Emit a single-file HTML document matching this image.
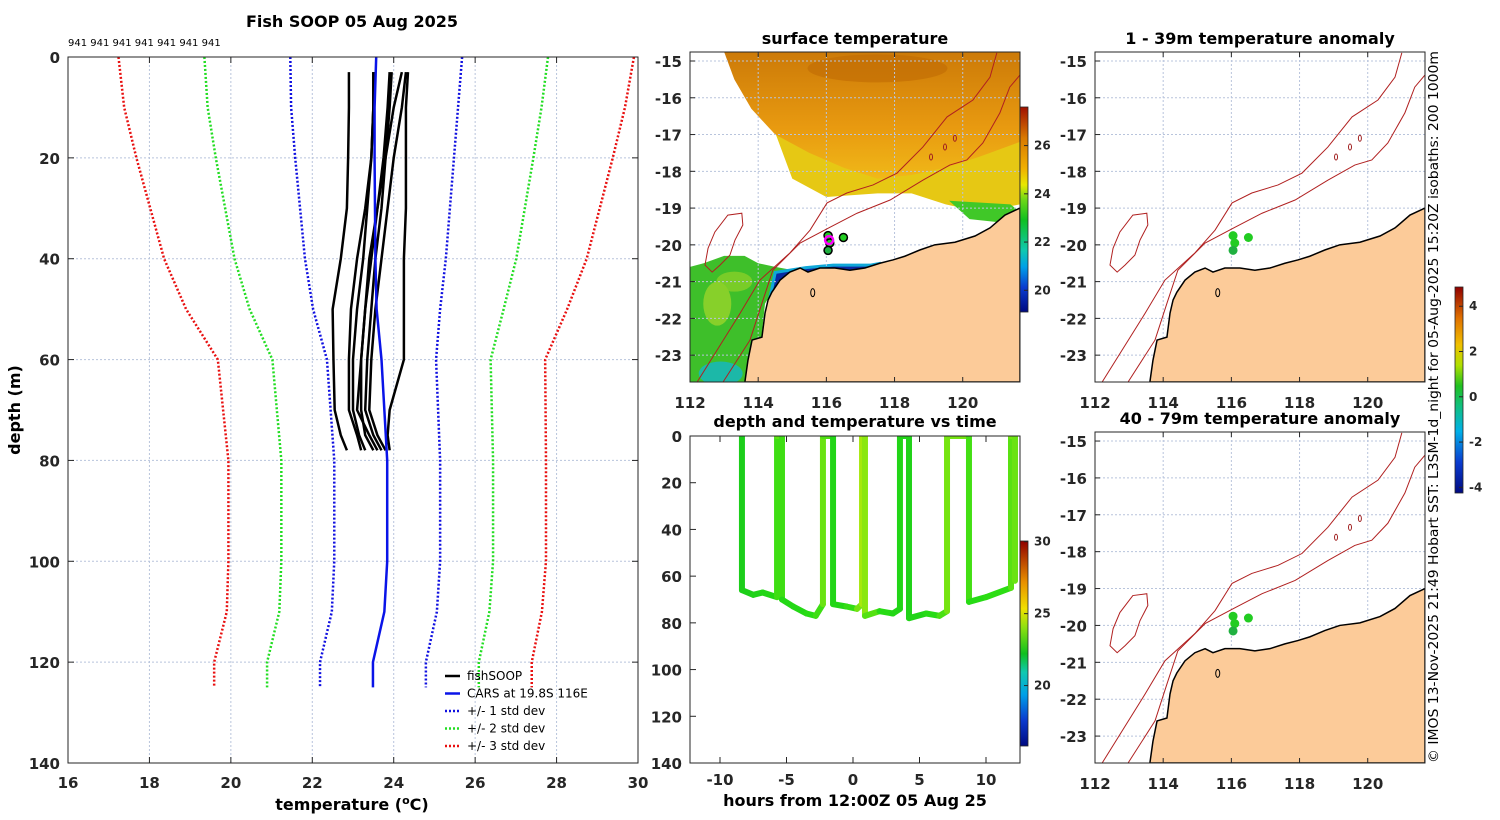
<!DOCTYPE html>
<html><head><meta charset="utf-8">
<style>
html,body{margin:0;padding:0;background:#fff;}
svg{display:block;font-family:"DejaVu Sans","Liberation Sans",sans-serif;}
.tk{font-size:15px;font-weight:bold;fill:#262626;}
.ttl{font-size:16px;font-weight:bold;fill:#000;}
</style></head>
<body>
<svg id="fig" width="1500" height="820" viewBox="0 0 1500 820" xmlns="http://www.w3.org/2000/svg">
<defs>
<linearGradient id="gSST" x1="0" y1="1" x2="0" y2="0">
<stop offset="0" stop-color="#000a80"/><stop offset="0.12" stop-color="#0a3cd0"/><stop offset="0.22" stop-color="#00a0e8"/>
<stop offset="0.3" stop-color="#10c8b0"/><stop offset="0.45" stop-color="#10c020"/><stop offset="0.55" stop-color="#70d818"/>
<stop offset="0.62" stop-color="#e8e800"/><stop offset="0.7" stop-color="#f0b000"/><stop offset="0.85" stop-color="#d87800"/><stop offset="1" stop-color="#a01000"/>
</linearGradient>
<linearGradient id="gTT" x1="0" y1="1" x2="0" y2="0">
<stop offset="0" stop-color="#000a80"/><stop offset="0.13" stop-color="#0a3cd0"/><stop offset="0.25" stop-color="#00a0e8"/>
<stop offset="0.36" stop-color="#10c8b0"/><stop offset="0.45" stop-color="#10c020"/><stop offset="0.58" stop-color="#90e010"/>
<stop offset="0.67" stop-color="#f0e000"/><stop offset="0.8" stop-color="#e89000"/><stop offset="1" stop-color="#900000"/>
</linearGradient>
<linearGradient id="gAN" x1="0" y1="1" x2="0" y2="0">
<stop offset="0" stop-color="#000a80"/><stop offset="0.15" stop-color="#0a3cd0"/><stop offset="0.3" stop-color="#00b0e8"/>
<stop offset="0.42" stop-color="#10c080"/><stop offset="0.52" stop-color="#20c020"/><stop offset="0.62" stop-color="#b0e000"/>
<stop offset="0.72" stop-color="#f0c000"/><stop offset="0.85" stop-color="#e07000"/><stop offset="1" stop-color="#900000"/>
</linearGradient>
<linearGradient id="gOr" x1="0" y1="0" x2="0" y2="1">
<stop offset="0" stop-color="#cc7a08"/><stop offset="0.6" stop-color="#e89a10"/><stop offset="1" stop-color="#f0b818"/>
</linearGradient>
<clipPath id="cpSST"><rect x="690" y="52" width="330" height="330"/></clipPath>
<clipPath id="cpA1"><rect x="1095" y="52" width="330" height="330"/></clipPath>
<clipPath id="cpA2"><rect x="1095" y="432" width="330" height="331"/></clipPath>
<clipPath id="cpT"><rect x="690" y="436" width="330" height="327"/></clipPath>
</defs>
<g id="root"></g>
</svg>
<script>
// ===== Main profile panel data =====
const stdDepths = [0,10,20,30,40,50,60,80,100,110,120,125];
const carsMean  = [23.57,23.53,23.53,23.54,23.55,23.58,23.70,23.84,23.84,23.77,23.49,23.49];
const carsStd   = [2.11,2.05,1.95,1.84,1.73,1.56,1.34,1.30,1.30,1.29,1.30,1.30];
const profDepths = [3,10,20,30,40,50,60,70,75,78];
const prof1 = [22.9,22.9,22.88,22.85,22.7,22.5,22.52,22.55,22.7,22.85];
const prof2 = [23.5,23.5,23.45,23.3,23.1,22.95,22.9,22.9,23.1,23.2];
const prof3 = [23.5,23.5,23.45,23.35,23.25,23.1,23.0,23.0,23.15,23.3];
const prof4 = [23.9,23.85,23.75,23.6,23.45,23.3,23.2,23.2,23.3,23.5];
const prof5 = [23.95,23.9,23.8,23.7,23.55,23.45,23.35,23.3,23.5,23.7];
const prof6 = [24.3,24.2,24.0,23.85,23.7,23.55,23.45,23.4,23.6,23.8];
const prof7 = [24.35,24.3,24.3,24.3,24.25,24.25,24.25,23.9,23.85,23.9];
const prof8 = [24.2,24.0,23.8,23.6,23.4,23.3,23.2,23.1,23.4,23.6];
const tempTicks = [16,18,20,22,24,26,28,30];
const depthTicks = [0,20,40,60,80,100,120,140];
// ===== Depth/time panel data =====
const tHours = [-8.35,-8.35,-7.5,-6.8,-5.71,-5.71,-5.34,-5.34,-4.5,-3.5,-2.8,-2.26,-2.26,-1.5,-1.5,-0.5,0.3,0.68,0.68,0.9,0.9,2,3,3.53,3.53,4.21,4.21,5.5,6.5,7.07,7.07,8.72,8.72,10,11.88,11.88,12.18,12.18];
const tDepth = [0,66,68,67,69,0,0,70,73,76,77,72,0,0,72,73,74,72,0,0,77,75,76,74,0,0,78,76,77,75,0,0,71,69,65,0,0,62];
const tTemp  = [23.0,23.0,23.1,23.2,23.4,24.0,24.0,23.4,23.3,23.4,23.6,23.8,24.4,23.3,23.2,23.4,23.8,24.6,24.8,24.6,24.2,23.6,23.3,23.3,23.2,23.2,23.1,23.3,23.6,24.0,24.4,24.0,23.5,23.4,23.7,24.2,24.2,24.0];
const hourTicks = [-10,-5,0,5,10];
// ===== Map data (lon/lat) =====
const lonTicks = [112,114,116,118,120];
const latTicks = [-15,-16,-17,-18,-19,-20,-21,-22,-23];
const coastLon = [121.68,121.24,120.8,120.36,119.77,119.18,118.74,118.3,117.95,117.57,117.13,116.69,116.25,115.81,115.46,115.23,114.93,114.64,114.4,114.29,114.2,114.11,113.82,113.7,113.61,121.68];
const coastLat = [-19.0,-19.19,-19.54,-19.76,-19.93,-20.0,-20.14,-20.31,-20.41,-20.5,-20.63,-20.69,-20.63,-20.63,-20.74,-20.63,-20.74,-20.96,-21.29,-21.5,-21.86,-22.51,-22.59,-23.14,-23.73,-23.73];
const iso1Lon = [112.21,113.47,114.05,114.93,115.52,116.02,116.6,117.37,118.07,118.83,119.54,120.3,120.8,121.0];
const iso1Lat = [-23.73,-21.86,-20.96,-20.22,-19.6,-18.86,-18.59,-18.37,-18.05,-17.34,-16.52,-16.06,-15.44,-14.78];
const iso2Lon = [112.97,113.76,114.11,114.43,115.23,116.11,116.9,117.87,118.83,119.62,120.12,120.59,121.09,121.38,121.68];
const iso2Lat = [-23.73,-22.59,-21.59,-20.69,-19.95,-19.52,-19.14,-18.78,-18.24,-17.83,-17.69,-17.23,-16.41,-15.71,-15.38];
const islLon = [112.53,112.73,113.11,113.52,113.55,113.32,113.17,112.88,112.65,112.44];
const islLat = [-20.09,-19.65,-19.19,-19.14,-19.46,-19.87,-20.28,-20.55,-20.74,-20.55];
const ovalLon = [119.07,119.48,119.77];
const ovalLat = [-17.61,-17.34,-17.1];
const orLon = [113.0,121.68,121.68,120.5,119.5,118.5,117.5,116.5,115.5,114.5,113.8,113.3];
const orLat = [-14.75,-14.75,-17.2,-17.6,-17.9,-18.1,-18.2,-17.9,-17.5,-17.0,-16.3,-15.5];
const yeLon = [114.5,115.5,116.5,117.5,118.5,119.5,120.5,121.68,121.68,120.5,119.5,118.5,117.5,116,115];
const yeLat = [-16.95,-17.45,-17.85,-18.15,-18.05,-17.85,-17.55,-17.15,-18.9,-19.1,-18.9,-18.6,-18.6,-18.7,-18.2];
const geLon = [119.6,121.4,121.68,121.2,120.2];
const geLat = [-18.8,-18.9,-19.1,-19.4,-19.3];
const grLon = [112,112.4,113,113.6,114,114.5,115.1,114.6,114.4,114.2,114.1,113.8,113.6,112];
const grLat = [-20.6,-20.5,-20.3,-20.3,-20.5,-20.6,-20.7,-21.1,-21.3,-21.6,-22.5,-22.6,-23.73,-23.73];
const blLon = [114.5,115.4,116.2,117.3,117.6,117.3,116.5,115.8,115.2,114.7,114.3,114.4];
const blLat = [-20.75,-20.62,-20.55,-20.55,-20.5,-20.7,-20.75,-20.8,-21.0,-21.4,-21.6,-21.2];
const obsLon = [116.05,116.1,116.5,116.05];
const obsLat = [-19.75,-19.95,-19.8,-20.15];

const NS='http://www.w3.org/2000/svg';
const root=document.getElementById('root');
function mk(tag,attrs,parent){const e=document.createElementNS(NS,tag);for(const k in attrs)e.setAttribute(k,attrs[k]);(parent||root).appendChild(e);return e;}
function txt(x,y,s,cls,anchor,parent){const t=mk('text',{x:x,y:y,class:cls,'text-anchor':anchor||'middle'},parent);t.textContent=s;return t;}

// ===== Main panel =====
const M={x0:68,x1:638,y0:57,y1:763};
const xT=t=>M.x0+(t-16)/(30-16)*(M.x1-M.x0);
const yD=d=>M.y0+d/140*(M.y1-M.y0);
const gMain=mk('g',{});


tempTicks.forEach(t=>{mk('line',{x1:xT(t),x2:xT(t),y1:M.y0,y2:M.y1,stroke:'#b8c4dc','stroke-width':1,'stroke-dasharray':'2,2'},gMain);
 const l=txt(xT(t),788,String(t),'tk','middle',gMain);});
depthTicks.forEach(d=>{mk('line',{x1:M.x0,x2:M.x1,y1:yD(d),y2:yD(d),stroke:'#b8c4dc','stroke-width':1,'stroke-dasharray':'2,2'},gMain);
 const l=txt(60,yD(d)+6,String(d),'tk','end',gMain);});
const colsK=[[1,'#1010e0'],[2,'#22dd22'],[3,'#e81010']];
colsK.forEach(([k,c])=>{[-1,1].forEach(s=>{
 const pts=stdDepths.map((d,i)=>xT(carsMean[i]+s*k*carsStd[i])+','+yD(d)).join(' ');
 const p=mk('polyline',{points:pts,fill:'none',stroke:c,'stroke-width':2.5,'stroke-dasharray':'2,2'},gMain);
 
 
});});
[prof1,prof2,prof3,prof4,prof5,prof6,prof7,prof8].forEach((pr,j)=>{
 const pts=profDepths.map((d,i)=>xT(pr[i])+','+yD(d)).join(' ');
 const p=mk('polyline',{points:pts,fill:'none',stroke:'#000','stroke-width':2.5,'stroke-linejoin':'round'},gMain);
 
 
});
{const pts=stdDepths.map((d,i)=>xT(carsMean[i])+','+yD(d)).join(' ');
 const p=mk('polyline',{points:pts,fill:'none',stroke:'#0a14e8','stroke-width':2.5},gMain);
 
 }
mk('rect',{x:M.x0,y:M.y0,width:M.x1-M.x0,height:M.y1-M.y0,fill:'none',stroke:'#262626','stroke-width':1},gMain);
tempTicks.forEach(t=>{mk('line',{x1:xT(t),x2:xT(t),y1:M.y1,y2:M.y1-6,stroke:'#262626'},gMain);mk('line',{x1:xT(t),x2:xT(t),y1:M.y0,y2:M.y0+6,stroke:'#262626'},gMain);});
depthTicks.forEach(d=>{mk('line',{x1:M.x0,x2:M.x0+6,y1:yD(d),y2:yD(d),stroke:'#262626'},gMain);mk('line',{x1:M.x1,x2:M.x1-6,y1:yD(d),y2:yD(d),stroke:'#262626'},gMain);});
const mt=txt(352,27,'Fish SOOP 05 Aug 2025','ttl','middle');
const nt=mk('text',{x:68,y:46,'font-size':'10','fill':'#000'});nt.textContent='941 941 941 941 941 941 941';

const xl=mk('text',{x:352,y:810,class:'ttl','text-anchor':'middle','fill':'#262626'});
xl.innerHTML='temperature (<tspan dy="-6" font-size="11">o</tspan><tspan dy="6">C)</tspan>';

const yl=txt(20,410,'depth (m)','ttl','middle');yl.setAttribute('transform','rotate(-90 20 410)');

// legend
const leg=mk('g',{});
[['fishSOOP','#000',null],['CARS at 19.8S 116E','#0a14e8',null],['+/- 1 std dev','#1010e0','2,2'],['+/- 2 std dev','#22dd22','2,2'],['+/- 3 std dev','#e81010','2,2']].forEach((e,i)=>{
 const y=676+i*17.5;const a={x1:445,x2:460,y1:y,y2:y,stroke:e[1],'stroke-width':2.5};if(e[2])a['stroke-dasharray']=e[2];
 mk('line',a,leg);const t=mk('text',{x:467,y:y+4,'font-size':'12','fill':'#000'},leg);t.textContent=e[0];
 });

// ===== Map helper =====
const L0=112,L1=121.68,LA0=-14.755,LA1=-23.73;
function mapAxes(bx,by,bw,bh,clip,name,title,sst){
 const g=mk('g',{});
 const px=lo=>bx+(lo-L0)/(L1-L0)*bw, py=la=>by+(la-LA0)/(LA1-LA0)*bh;
 const poly=(lo,la)=>lo.map((v,i)=>px(v)+','+py(la[i])).join(' ');
 const inner=mk('g',{'clip-path':'url(#'+clip+')'},g);
 if(sst){
  mk('polygon',{points:poly(yeLon,yeLat),fill:'#e6c814'},inner);
  mk('polygon',{points:poly(orLon,orLat),fill:'url(#gOr)'},inner);
  mk('polygon',{points:poly(geLon,geLat),fill:'#40c828'},inner);
  mk('polygon',{points:poly(grLon,grLat),fill:'#3ebf2a'},inner);
  mk('ellipse',{cx:px(112.8),cy:py(-21.6),rx:14,ry:22,fill:'#9ad42a',opacity:0.8},inner);
  mk('ellipse',{cx:px(113.3),cy:py(-21.0),rx:18,ry:10,fill:'#88d028',opacity:0.8},inner);
  mk('ellipse',{cx:px(112.9),cy:py(-23.5),rx:22,ry:12,fill:'#1cb8a8'},inner);
  mk('polygon',{points:poly(blLon,blLat),fill:'#0a2aa0',stroke:'#10a8d8','stroke-width':3},inner);
  mk('ellipse',{cx:px(117.5),cy:py(-15.2),rx:70,ry:14,fill:'#c06a04',opacity:0.6},inner);
 }
 lonTicks.forEach(l=>mk('line',{x1:px(l),x2:px(l),y1:by,y2:by+bh,stroke:'#b8c4dc','stroke-dasharray':'2,2'},inner));
 latTicks.forEach(l=>mk('line',{x1:bx,x2:bx+bw,y1:py(l),y2:py(l),stroke:'#b8c4dc','stroke-dasharray':'2,2'},inner));
 const land=mk('polygon',{points:poly(coastLon,coastLat),fill:'#fccb99',stroke:'#000','stroke-width':1.5},inner);
 
 [[iso1Lon,iso1Lat],[iso2Lon,iso2Lat]].forEach(a=>{const p=mk('polyline',{points:poly(a[0],a[1]),fill:'none',stroke:'#b02020','stroke-width':1},inner);
  });
 mk('polygon',{points:poly(islLon,islLat),fill:'none',stroke:'#b02020','stroke-width':1},inner);
 ovalLon.forEach((v,i)=>mk('ellipse',{cx:px(v),cy:py(ovalLat[i]),rx:1.5,ry:3,fill:'none',stroke:'#a02020'},inner));
 mk('ellipse',{cx:px(115.6),cy:py(-21.3),rx:2,ry:4,fill:'none',stroke:'#000'},inner);
 obsLon.forEach((v,i)=>{const c=mk('circle',{cx:px(v),cy:py(obsLat[i]),r:sst?4:4.5,fill:i==3?'#20b040':'#22cc22',stroke:sst?'#000':'none','stroke-width':1.5},inner);
  });
 if(sst){const c=mk('circle',{cx:px(116.08),cy:py(-19.87),r:4,fill:'none',stroke:'#ff00ff','stroke-width':2.5},inner);
  }
 mk('rect',{x:bx,y:by,width:bw,height:bh,fill:'none',stroke:'#262626'},g);
 lonTicks.forEach(l=>{mk('line',{x1:px(l),x2:px(l),y1:by+bh,y2:by+bh-5,stroke:'#262626'},g);mk('line',{x1:px(l),x2:px(l),y1:by,y2:by+5,stroke:'#262626'},g);
  const t=txt(px(l),by+bh+26,String(l),'tk','middle',g);});
 latTicks.forEach(l=>{mk('line',{x1:bx,x2:bx+5,y1:py(l),y2:py(l),stroke:'#262626'},g);
  const t=txt(bx-8,py(l)+6,String(l),'tk','end',g);});
 const tt=txt(bx+bw/2,by-8,title,'ttl','middle',g);
}
mapAxes(690,52,330,330,'cpSST','surface-temperature-map','surface temperature',true);
mapAxes(1095,52,330,330,'cpA1','anomaly-map-1-39m','1 - 39m temperature anomaly',false);
mapAxes(1095,432,330,331,'cpA2','anomaly-map-40-79m','40 - 79m temperature anomaly',false);

// colorbars
function cbar(x,y0,y1,grad,ticks,vmin,vmax,name){
 const g=mk('g',{});
 mk('rect',{x:x,y:y0,width:8,height:y1-y0,fill:'url(#'+grad+')',stroke:'#262626','stroke-width':0.8},g);
 ticks.forEach(t=>{const y=y1-(t-vmin)/(vmax-vmin)*(y1-y0);mk('line',{x1:x+8,x2:x+4,y1:y,y2:y,stroke:'#262626'},g);
  const l=mk('text',{x:x+14,y:y+4,'font-size':'12','font-weight':'bold','fill':'#262626'},g);l.textContent=String(t);});
}
cbar(1020,107,312,'gSST',[20,22,24,26],19.1,27.6,'sst-colorbar');
cbar(1020,541,746,'gTT',[20,25,30],15.8,30.05,'depth-temp-colorbar');
cbar(1455,287,493,'gAN',[-4,-2,0,2,4],-4.25,4.85,'anomaly-colorbar');

// ===== Depth/time panel =====
const T={x0:690,x1:1020,y0:436,y1:763};
const xH=h=>853+h*13.3;
const yT=d=>T.y0+d/140*(T.y1-T.y0);
const gT=mk('g',{});
function tcol(t){const s=[[22.5,[16,192,32]],[23.5,[40,220,20]],[24.5,[150,232,16]],[25.5,[235,230,0]]];
 if(t<=s[0][0])return 'rgb('+s[0][1]+')';for(let i=1;i<s.length;i++){if(t<=s[i][0]){const f=(t-s[i-1][0])/(s[i][0]-s[i-1][0]);
 return 'rgb('+s[i][1].map((v,k)=>Math.round(s[i-1][1][k]+f*(v-s[i-1][1][k]))).join(',')+')';}}return 'rgb('+s[3][1]+')';}
const inT=mk('g',{'clip-path':'url(#cpT)'},gT);
for(let i=0;i<tHours.length-1;i++){
 const ln=mk('line',{x1:xH(tHours[i]),y1:yT(tDepth[i]),x2:xH(tHours[i+1]),y2:yT(tDepth[i+1]),stroke:tcol((tTemp[i]+tTemp[i+1])/2),'stroke-width':6,'stroke-linecap':'round'},inT);
 
 
}
mk('rect',{x:T.x0,y:T.y0,width:T.x1-T.x0,height:T.y1-T.y0,fill:'none',stroke:'#262626'},gT);
hourTicks.forEach(h=>{mk('line',{x1:xH(h),x2:xH(h),y1:T.y1,y2:T.y1-6,stroke:'#262626'},gT);mk('line',{x1:xH(h),x2:xH(h),y1:T.y0,y2:T.y0+6,stroke:'#262626'},gT);
 const t=txt(xH(h),785,String(h),'tk','middle',gT);});
depthTicks.forEach(d=>{mk('line',{x1:T.x0,x2:T.x0+6,y1:yT(d),y2:yT(d),stroke:'#262626'},gT);
 const t=txt(682,yT(d)+6,String(d),'tk','end',gT);});
const t2=txt(855,427,'depth and temperature vs time','ttl','middle',gT);
const t3=txt(855,806,'hours from 12:00Z 05 Aug 25','ttl','middle',gT);t3.setAttribute('fill','#262626');

// credit text
const cr=mk('text',{x:0,y:0,'font-size':'13','fill':'#000','text-anchor':'middle',transform:'translate(1438 407) rotate(-90)',textLength:712,lengthAdjust:'spacingAndGlyphs'});
cr.textContent='\u00a9 IMOS 13-Nov-2025 21:49 Hobart SST: L3SM-1d_night for 05-Aug-2025 15:20Z isobaths: 200  1000m';

</script>
</body></html>
